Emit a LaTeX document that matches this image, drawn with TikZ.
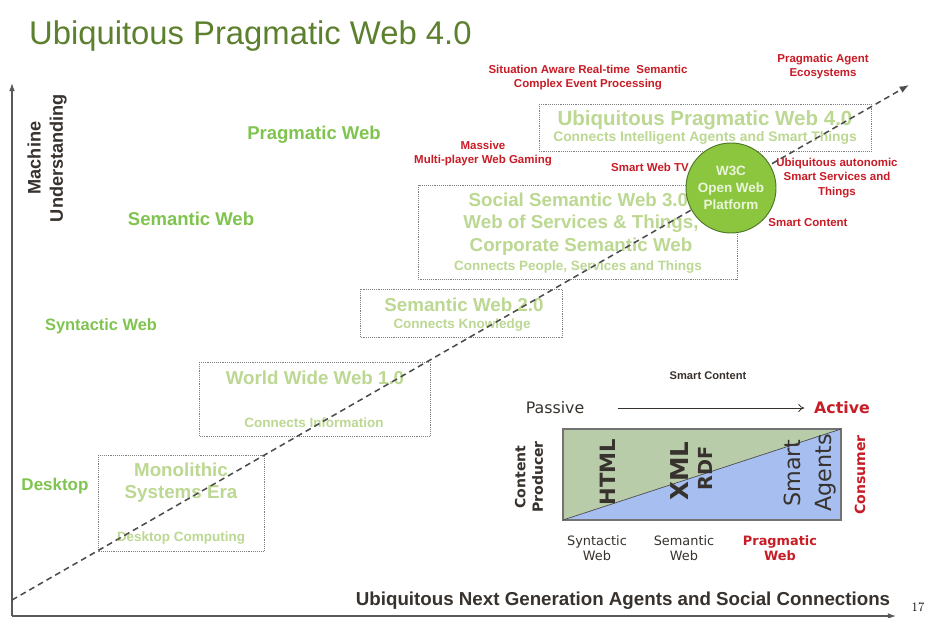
\documentclass[tikz,border=0pt]{standalone}
\usepackage{fontspec}
\setsansfont{Liberation Sans}
\newfontfamily\dejavu{DejaVu Sans}
\usetikzlibrary{arrows.meta}
\definecolor{titlegreen}{RGB}{92,128,46}
\definecolor{eragreen}{RGB}{128,196,80}
\definecolor{palegreen}{RGB}{188,216,146}
\definecolor{hotred}{RGB}{200,28,38}
\definecolor{darktext}{RGB}{55,50,45}
\definecolor{discfill}{RGB}{140,198,63}
\definecolor{discedge}{RGB}{78,118,38}
\definecolor{insetgreen}{RGB}{184,204,170}
\definecolor{insetblue}{RGB}{166,190,240}

\begin{document}
\begin{tikzpicture}[x=0.03cm, y=-0.03cm, font=\sffamily, frame/.style={draw=black!50, densely dotted, line width=0.6pt}, boxhead/.style={text=palegreen, align=center, font=\sffamily\bfseries\fontsize{16}{19}\selectfont}, boxsub/.style={text=palegreen, font=\sffamily\bfseries\fontsize{11.5}{13}\selectfont}, era/.style={text=eragreen, font=\sffamily\bfseries\fontsize{#1}{17}\selectfont}, era/.default=14.5, hot/.style={text=hotred, align=center, font=\sffamily\bfseries\fontsize{9.8}{12}\selectfont}, axis/.style={draw=black!65, line width=1.1pt, -{Latex[length=7pt,width=5pt]}}, trend/.style={draw=black!70, line width=1.3pt, dash pattern=on 5pt off 3.5pt, -{Latex[length=8pt,width=6pt]}}, inset/.style={text=darktext, font=\dejavu\fontsize{#1}{1.15\dimexpr #1pt\relax}\selectfont}, inset/.default=10.5]
\useasboundingbox[fill=white] (0,0) rectangle (926,618);
\node[text=titlegreen, anchor=west, font=\sffamily\fontsize{28}{30}\selectfont] (title) at (25,36) {Ubiquitous Pragmatic Web 4.0};
% axes
\coordinate (origin) at (12,616); \coordinate (ytop) at (12,83); \coordinate (xend) at (896,616);
\draw[axis] (origin) -- (ytop); \draw[axis] (origin) -- (xend);
\node[rotate=90, align=center, text=darktext, font=\sffamily\bfseries\fontsize{15.5}{19}\selectfont] (yname) at (47,158) {Machine\\Understanding};
\node[text=darktext, font=\sffamily\bfseries\fontsize{16}{18}\selectfont] (xname) at (623,601) {Ubiquitous Next Generation Agents and Social Connections};
\node[font=\rmfamily\fontsize{11}{13}\selectfont] (page) at (918,607) {17};
% eras on the left
\node[era=15.8] (pragweb) at (314,135) {Pragmatic Web};
\node[era=15.8] (semweb) at (191,219) {Semantic Web};
\node[era=14] (synweb) at (101,326) {Syntactic Web};
\node[era] (desk) at (55,486) {Desktop};
% dotted boxes along the trend
\draw[frame] (98,455) rectangle (264,551);
\node[boxhead] (mono) at (181,483) {Monolithic\\Systems Era};
\node[boxsub] (monosub) at (181,538) {Desktop Computing};
\draw[frame] (199,362) rectangle (430,436);
\node[boxhead] (www) at (315,378) {World Wide Web 1.0};
\node[boxsub] (wwwsub) at (314,423) {Connects Information};
\draw[frame] (360,289) rectangle (562,337);
\node[boxhead] (sw2) at (464,305) {Semantic Web 2.0};
\node[boxsub] (sw2sub) at (462,325) {Connects Knowledge};
\draw[frame] (418,185) rectangle (737,279);
\node[boxhead] (sw3) at (581,224) {Social Semantic Web 3.0,\\Web of Services \& Things,\\Corporate Semantic Web};
\node[boxsub] (sw3sub) at (578,267) {Connects People, Services and Things};
\draw[frame] (539,104) rectangle (871,151);
\node[boxhead, font=\sffamily\bfseries\fontsize{17.5}{19}\selectfont] (upw) at (705,120) {Ubiquitous Pragmatic Web 4.0};
\node[boxsub, font=\sffamily\bfseries\fontsize{11.8}{13}\selectfont] (upwsub) at (705,138) {Connects Intelligent Agents and Smart Things};
\coordinate (lowstart) at (12,600); \coordinate (hightip) at (909,85);
\draw[trend] (lowstart) -- (hightip);
\node[circle, draw=discedge, fill=discfill, line width=0.8pt, minimum size=2.46cm, align=center, text=white!82!discfill, font=\sffamily\bfseries\fontsize{11.5}{14.5}\selectfont] (w3c) at (731,188) {W3C\\Open Web\\Platform};
% red application labels
\node[hot] (cep) at (588,78) {Situation Aware Real-time~ Semantic\\Complex Event Processing};
\node[hot] (eco) at (823,67) {Pragmatic Agent\\Ecosystems};
\node[hot] (gaming) at (483,154) {Massive\\Multi-player Web Gaming};
\node[hot] (tv) at (650,167) {Smart Web TV};
\node[hot] (auto) at (837,178) {Ubiquitous autonomic\\Smart Services and\\Things};
\node[hot] (smartc) at (808,223) {Smart Content};
% inset: passive to active content
\node[text=darktext, font=\sffamily\bfseries\fontsize{9.5}{12}\selectfont] (inhead) at (708,376) {Smart Content};
\node[inset=13.5] (passive) at (555,408) {Passive};
\node[inset=13.5, text=hotred, font=\dejavu\bfseries\fontsize{13.5}{16}\selectfont] (active) at (842,408) {Active};
\draw[darktext, line width=0.7pt, -{To[length=5pt,width=7pt]}, shorten <=25pt, shorten >=5pt] (passive.east) -- (active.west);
\fill[insetgreen] (563,429) -- (841,429) -- (563,520) -- cycle;
\fill[insetblue] (563,520) -- (841,429) -- (841,520) -- cycle;
\draw[black!55, line width=0.9pt] (563,429) rectangle (841,520);
\draw[black!70, line width=0.6pt] (563,520) -- (841,429);
\node[rotate=90, text=darktext, font=\dejavu\bfseries\fontsize{18}{20}\selectfont] (html) at (608,472) {HTML};
\node[rotate=90, text=darktext, font=\dejavu\bfseries\fontsize{21}{23}\selectfont] (xml) at (680,471) {XML};
\node[rotate=90, text=darktext, font=\dejavu\bfseries\fontsize{16.5}{18}\selectfont] (rdf) at (705,468) {RDF};
\node[rotate=90, align=center, text=darktext, font=\dejavu\fontsize{19}{26}\selectfont] (agents) at (810,473) {Smart\\Agents};
\node[rotate=90, align=center, text=darktext, font=\dejavu\bfseries\fontsize{12}{15}\selectfont] (producer) at (529,477) {Content\\Producer};
\node[rotate=90, text=hotred, font=\dejavu\bfseries\fontsize{12}{14}\selectfont] (consumer) at (860,475) {Consumer};
\node[inset=11, align=center] (synlabel) at (597,548) {Syntactic\\Web};
\node[inset=11, align=center] (semlabel) at (684,548) {Semantic\\Web};
\node[inset, align=center, text=hotred, font=\dejavu\bfseries\fontsize{11}{12.6}\selectfont] (praglabel) at (780,548) {Pragmatic\\Web};
\end{tikzpicture}
\end{document}
